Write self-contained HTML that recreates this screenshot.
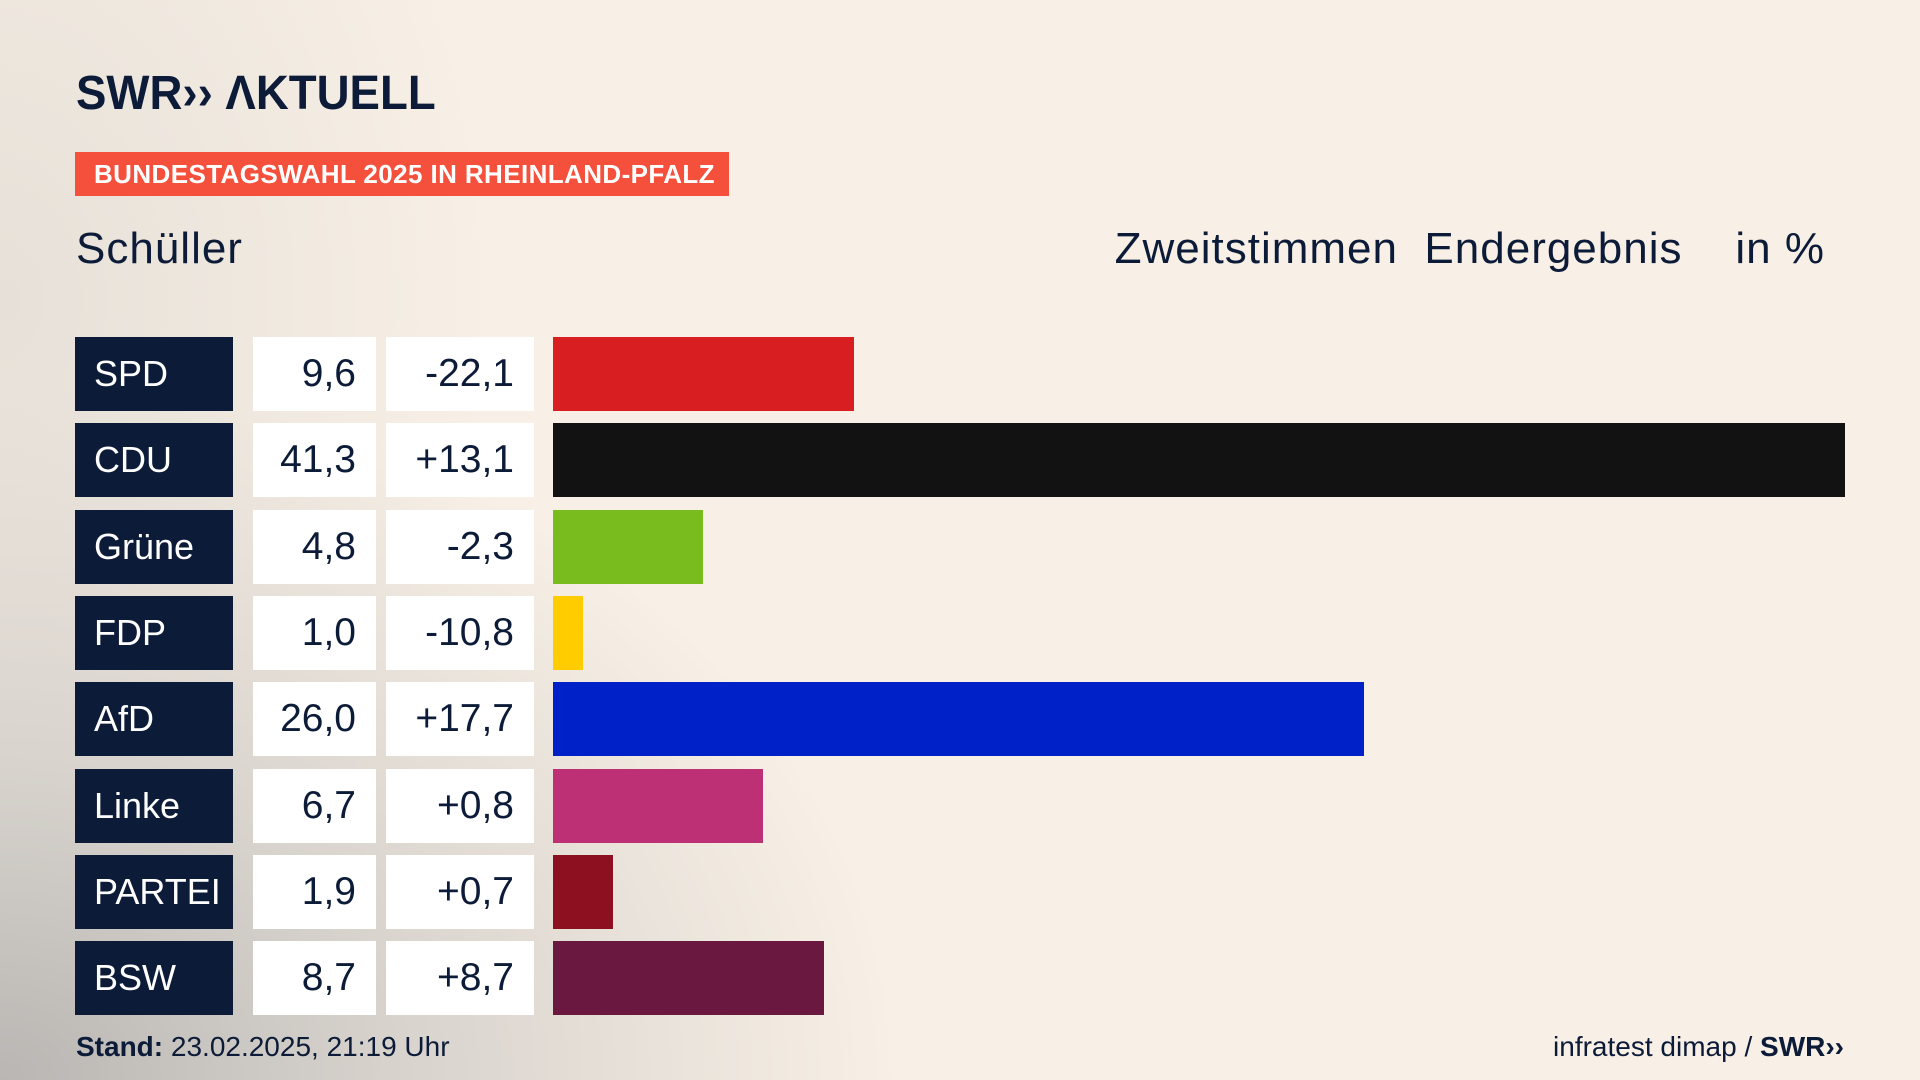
<!DOCTYPE html>
<html><head><meta charset="utf-8"><style>
body{margin:0;width:1920px;height:1080px;overflow:hidden;font-family:"Liberation Sans",sans-serif;color:#0c1b38;
background:radial-gradient(ellipse 900px 700px at 0px 1080px,#b9b6b3 0%,#d8d3cd 45%,rgba(248,240,230,0) 100%),radial-gradient(ellipse 500px 700px at 0 300px,#e6e0d8 0%,rgba(248,240,230,0) 100%),#f8f0e6;position:relative}
.a{position:absolute}
.logo{left:76px;top:66px;font-size:48px;font-weight:bold;letter-spacing:0px;transform:scaleX(0.95);transform-origin:left}
.ban{left:75px;top:152px;width:654px;height:44px;background:#f5503c;color:#fff;font-weight:bold;font-size:26px;line-height:44px;padding-left:19px;box-sizing:border-box;letter-spacing:0.4px}
.h{top:222px;font-size:44px;line-height:54px;letter-spacing:1px}
.p{left:75px;width:158px;height:74px;background:#0c1b38;color:#fff;font-size:36px;line-height:74px;padding-left:19px;box-sizing:border-box}
.v{left:253px;width:123px;height:74px;background:#fff;font-size:39px;line-height:74px;text-align:right;padding-right:20px;box-sizing:border-box}
.d{left:386px;width:148px;height:74px;background:#fff;font-size:39px;line-height:74px;text-align:right;padding-right:20px;box-sizing:border-box}
.b{left:553px;height:74px}
.f{top:1030px;font-size:28px;line-height:34px}
</style></head><body>
<div class="a logo">SWR&#8250;&#8250; ΛKTUELL</div>
<div class="a ban">BUNDESTAGSWAHL 2025 IN RHEINLAND-PFALZ</div>
<div class="a h" style="left:76px">Schüller</div>
<div class="a h" style="right:95px">Zweitstimmen&nbsp;&nbsp;Endergebnis&nbsp;&nbsp;&nbsp;&nbsp;in %</div>

<div class="a p" style="top:337px">SPD</div><div class="a v" style="top:337px">9,6</div><div class="a d" style="top:337px">-22,1</div><div class="a b" style="top:337px;width:301px;background:#d91e21"></div>
<div class="a p" style="top:423px">CDU</div><div class="a v" style="top:423px">41,3</div><div class="a d" style="top:423px">+13,1</div><div class="a b" style="top:423px;width:1292px;background:#121212"></div>
<div class="a p" style="top:510px">Grüne</div><div class="a v" style="top:510px">4,8</div><div class="a d" style="top:510px">-2,3</div><div class="a b" style="top:510px;width:150px;background:#78bc1e"></div>
<div class="a p" style="top:596px">FDP</div><div class="a v" style="top:596px">1,0</div><div class="a d" style="top:596px">-10,8</div><div class="a b" style="top:596px;width:30px;background:#ffcc00"></div>
<div class="a p" style="top:682px">AfD</div><div class="a v" style="top:682px">26,0</div><div class="a d" style="top:682px">+17,7</div><div class="a b" style="top:682px;width:811px;background:#0021c8"></div>
<div class="a p" style="top:769px">Linke</div><div class="a v" style="top:769px">6,7</div><div class="a d" style="top:769px">+0,8</div><div class="a b" style="top:769px;width:210px;background:#bd3075"></div>
<div class="a p" style="top:855px">PARTEI</div><div class="a v" style="top:855px">1,9</div><div class="a d" style="top:855px">+0,7</div><div class="a b" style="top:855px;width:60px;background:#8c1020"></div>
<div class="a p" style="top:941px">BSW</div><div class="a v" style="top:941px">8,7</div><div class="a d" style="top:941px">+8,7</div><div class="a b" style="top:941px;width:271px;background:#6b1840"></div>

<div class="a f" style="left:76px"><b>Stand:</b> 23.02.2025, 21:19 Uhr</div>
<div class="a f" style="right:76px">infratest dimap / <b>SWR&#8250;&#8250;</b></div>
</body></html>
